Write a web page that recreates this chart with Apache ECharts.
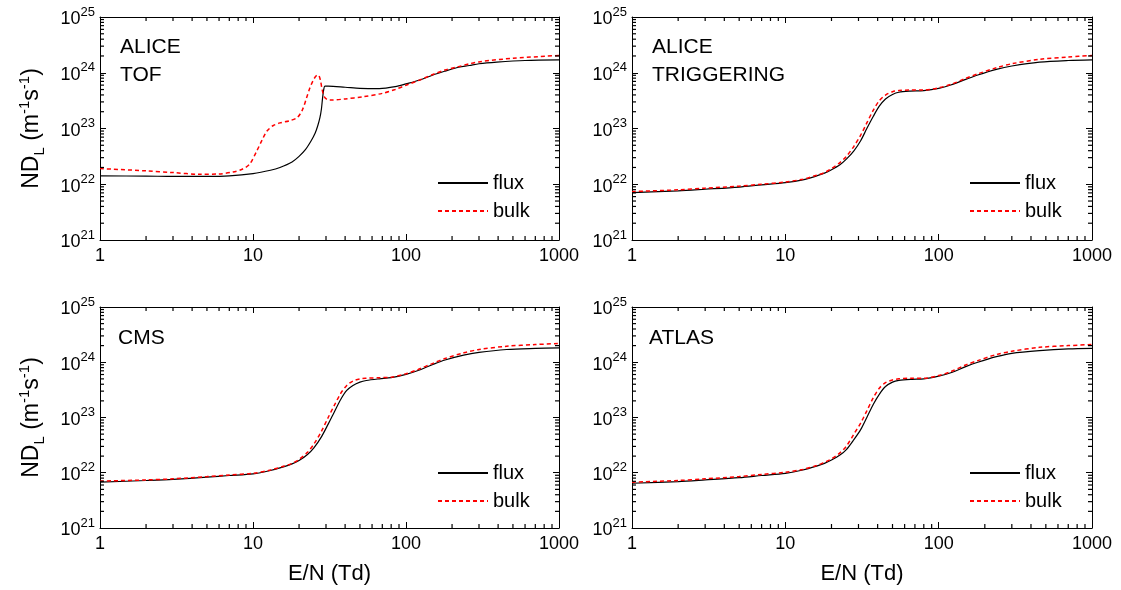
<!DOCTYPE html>
<html>
<head>
<meta charset="utf-8">
<script src="https://cdn.jsdelivr.net/npm/echarts@6/dist/echarts.min.js"></script>
<style>
html,body{margin:0;padding:0;background:#fff;}
#chart{width:1121px;height:590px;}
</style>
</head>
<body>
<div id="chart"></div>
<script>
// ---------- data (E/N in Td, ND_L in m^-1 s^-1) ----------
const panelLabels = ['ALICE\nTOF', 'ALICE\nTRIGGERING', 'CMS', 'ATLAS'];
const seriesNames = ['flux', 'bulk'];
const xTickLabels = ['1', '10', '100', '1000'];

const tofFluxE = [1, 2, 3, 5, 7, 10, 13, 15, 18, 20, 22, 24, 25.5, 26.5, 27.4, 28, 28.5, 29, 29.5, 31, 40, 50, 67, 85, 100, 123, 150, 180, 214, 260, 300, 392, 600, 1000];
const tofFlux  = [1.41e22, 1.40e22, 1.38e22, 1.38e22, 1.41e22, 1.55e22, 1.78e22, 2.0e22, 2.51e22, 3.16e22, 4.17e22, 6.03e22, 8.32e22, 1.12e23, 1.58e23, 2.24e23, 3.55e23, 5.01e23, 5.75e23, 5.75e23, 5.50e23, 5.25e23, 5.19e23, 5.62e23, 6.31e23, 7.41e23, 9.12e23, 1.07e24, 1.23e24, 1.35e24, 1.45e24, 1.55e24, 1.66e24, 1.70e24];
const tofBulkE = [1, 2, 3, 4.5, 6, 7.4, 8.5, 9.5, 10.6, 11.5, 12.3, 13.5, 15, 17.4, 19.5, 21, 22.4, 23.5, 24.8, 26, 26.7, 27.5, 28.3, 29.2, 30.5, 32, 40, 52.4, 70, 85, 101, 123, 150, 180, 214, 260, 305, 500, 1000];
const tofBulk  = [1.91e22, 1.74e22, 1.62e22, 1.51e22, 1.53e22, 1.66e22, 1.86e22, 2.29e22, 3.98e22, 6.31e22, 8.91e22, 1.12e23, 1.26e23, 1.38e23, 1.58e23, 2.14e23, 3.55e23, 5.25e23, 7.41e23, 8.91e23, 9.12e23, 7.59e23, 5.01e23, 3.72e23, 3.31e23, 3.24e23, 3.39e23, 3.72e23, 4.27e23, 5.01e23, 6.03e23, 7.41e23, 9.33e23, 1.12e24, 1.26e24, 1.45e24, 1.58e24, 1.82e24, 2.04e24];

const trigE    = [1, 2, 3, 5, 7, 10, 13, 16, 18, 20, 22.7, 25, 28, 31, 34, 37.5, 41, 45, 50, 55, 65, 80, 100, 120, 150, 180, 238, 300, 455, 700, 1000];
const trigFlux = [7.08e21, 7.59e21, 8.13e21, 8.91e21, 9.77e21, 1.07e22, 1.20e22, 1.41e22, 1.58e22, 1.82e22, 2.24e22, 2.82e22, 3.98e22, 6.03e22, 1.0e23, 1.66e23, 2.51e23, 3.39e23, 4.07e23, 4.47e23, 4.68e23, 4.79e23, 5.25e23, 6.03e23, 7.59e23, 9.12e23, 1.15e24, 1.32e24, 1.55e24, 1.66e24, 1.70e24];
const trigBulk = [7.41e21, 7.94e21, 8.51e21, 9.23e21, 1.0e22, 1.10e22, 1.23e22, 1.45e22, 1.62e22, 1.91e22, 2.45e22, 3.16e22, 4.79e22, 7.59e22, 1.26e23, 2.14e23, 3.16e23, 3.98e23, 4.57e23, 4.79e23, 4.90e23, 4.90e23, 5.37e23, 6.17e23, 7.94e23, 9.55e23, 1.23e24, 1.45e24, 1.74e24, 1.91e24, 2.04e24];

const cmsE     = [1, 2, 3, 5, 7, 10, 13, 16, 18, 20, 22.7, 25, 28, 31, 34, 37.5, 41, 45, 50, 55, 67, 80, 100, 120, 150, 180, 238, 300, 455, 700, 1000];
const cmsFlux  = [6.76e21, 7.24e21, 7.59e21, 8.32e21, 8.91e21, 9.55e21, 1.10e22, 1.29e22, 1.45e22, 1.66e22, 2.14e22, 2.82e22, 4.47e22, 7.59e22, 1.26e23, 2.14e23, 3.09e23, 3.80e23, 4.37e23, 4.68e23, 5.01e23, 5.25e23, 6.03e23, 7.08e23, 9.12e23, 1.10e24, 1.35e24, 1.51e24, 1.70e24, 1.78e24, 1.82e24];
const cmsBulk  = [7.08e21, 7.41e21, 7.76e21, 8.51e21, 9.12e21, 9.77e21, 1.12e22, 1.32e22, 1.48e22, 1.74e22, 2.34e22, 3.31e22, 5.62e22, 1.0e23, 1.66e23, 2.75e23, 3.80e23, 4.57e23, 5.01e23, 5.13e23, 5.25e23, 5.37e23, 6.17e23, 7.41e23, 9.55e23, 1.17e24, 1.48e24, 1.70e24, 1.95e24, 2.09e24, 2.19e24];

const atlasE    = [1, 2, 3, 5, 7, 10, 13, 16, 18, 20, 22.7, 25, 28, 31, 34, 37.5, 41, 45, 50, 55, 67, 80, 100, 120, 150, 180, 238, 300, 455, 700, 1000];
const atlasFlux = [6.46e21, 6.92e21, 7.41e21, 8.13e21, 8.91e21, 9.77e21, 1.12e22, 1.32e22, 1.48e22, 1.70e22, 2.09e22, 2.63e22, 3.98e22, 6.03e22, 1.0e23, 1.74e23, 2.63e23, 3.63e23, 4.37e23, 4.68e23, 4.90e23, 5.01e23, 5.62e23, 6.46e23, 8.32e23, 1.0e24, 1.26e24, 1.45e24, 1.62e24, 1.74e24, 1.78e24];
const atlasBulk = [6.76e21, 7.24e21, 7.76e21, 8.51e21, 9.33e21, 1.02e22, 1.15e22, 1.35e22, 1.55e22, 1.78e22, 2.29e22, 3.02e22, 5.01e22, 7.94e22, 1.32e23, 2.29e23, 3.39e23, 4.27e23, 4.79e23, 5.01e23, 5.13e23, 5.13e23, 5.75e23, 6.76e23, 8.91e23, 1.07e24, 1.38e24, 1.58e24, 1.86e24, 2.0e24, 2.09e24];

const X_MIN = 1, X_MAX = 1000, Y_MIN = 1e21, Y_MAX = 1e25;
// minor tick values (2..9 per decade)
const xMinorTicks = [];
for (let d = 1; d < X_MAX; d *= 10) for (let k = 2; k <= 9; k++) xMinorTicks.push(k * d);
const yMinorTicks = [];
for (let e = 21; e < 25; e++) for (let k = 2; k <= 9; k++) yMinorTicks.push(k * Math.pow(10, e));

// ---------- layout ----------
const FONT = 'Liberation Sans, Arial, Helvetica, sans-serif';
const grids = [
  {left: 100, top: 17, width: 459, height: 223},
  {left: 632, top: 17, width: 460, height: 223},
  {left: 100, top: 307, width: 459, height: 221},
  {left: 632, top: 307, width: 460, height: 221}
];
const panels = [
  {fluxE: tofFluxE, flux: tofFlux, bulkE: tofBulkE, bulk: tofBulk},
  {fluxE: trigE, flux: trigFlux, bulkE: trigE, bulk: trigBulk},
  {fluxE: cmsE, flux: cmsFlux, bulkE: cmsE, bulk: cmsBulk},
  {fluxE: atlasE, flux: atlasFlux, bulkE: atlasE, bulk: atlasBulk}
];
const labelPos = [[120, 33], [652, 33], [118, 324], [649, 324]];
const legendPos = [[437, 173], [969, 173], [437, 463], [969, 463]];

const zip = (a, b) => a.map((v, i) => [v, b[i]]);
const expOf = v => Math.round(Math.log(v) / Math.LN10);

function tickSeries(i, data, size, offset) {
  return {
    type: 'scatter', xAxisIndex: 2 * i, yAxisIndex: 2 * i, silent: true, clip: false,
    data: data, symbol: 'rect', symbolSize: size, symbolOffset: offset,
    itemStyle: {color: '#000', opacity: 1}, z: 5, animation: false
  };
}

const xAxis = [], yAxis = [], series = [], title = [], legend = [];
grids.forEach((g, i) => {
  const isBottom = i >= 2, isLeft = i % 2 === 0;
  xAxis.push({
    type: 'log', logBase: 10, gridIndex: i, min: X_MIN, max: X_MAX, position: 'bottom',
    axisLine: {show: true, lineStyle: {color: '#000', width: 1}},
    axisTick: {show: true, inside: true, length: 6, lineStyle: {color: '#000', width: 1}},
    axisLabel: {show: true, margin: 7, color: '#000', fontSize: 18, fontFamily: FONT,
      formatter: v => xTickLabels[expOf(v)]},
    splitLine: {show: false},
    name: isBottom ? 'E/N (Td)' : '', nameLocation: 'middle', nameGap: 35,
    nameTextStyle: {color: '#000', fontSize: 22, fontFamily: FONT}
  });
  xAxis.push({
    type: 'log', logBase: 10, gridIndex: i, min: X_MIN, max: X_MAX, position: 'top',
    axisLine: {show: true, lineStyle: {color: '#000', width: 1}},
    axisTick: {show: true, inside: true, length: 6, lineStyle: {color: '#000', width: 1}},
    axisLabel: {show: false}, splitLine: {show: false}
  });
  yAxis.push({
    type: 'log', logBase: 10, gridIndex: i, min: Y_MIN, max: Y_MAX, position: 'left',
    axisLine: {show: true, lineStyle: {color: '#000', width: 1}},
    axisTick: {show: true, inside: true, length: 6, lineStyle: {color: '#000', width: 1}},
    axisLabel: {show: true, margin: 5, color: '#000', fontFamily: FONT,
      formatter: v => '{b|10}{s|' + expOf(v) + '}',
      rich: {
        b: {fontSize: 18, lineHeight: 23, verticalAlign: 'bottom', fontFamily: FONT, color: '#000'},
        s: {fontSize: 13, verticalAlign: 'top', fontFamily: FONT, color: '#000'}
      }},
    splitLine: {show: false},
    name: isLeft ? '{n|ND}{sub|L}{n| (m}{sup|-1}{n|s}{sup|-1}{n|)}' : '',
    nameLocation: 'middle', nameRotate: 90, nameGap: 53,
    nameTextStyle: {
      color: '#000', fontFamily: FONT,
      rich: {
        n: {fontSize: 23, lineHeight: 30, verticalAlign: 'middle', fontFamily: FONT, color: '#000'},
        sub: {fontSize: 15, verticalAlign: 'bottom', fontFamily: FONT, color: '#000'},
        sup: {fontSize: 15, verticalAlign: 'top', fontFamily: FONT, color: '#000'}
      }
    }
  });
  yAxis.push({
    type: 'log', logBase: 10, gridIndex: i, min: Y_MIN, max: Y_MAX, position: 'right',
    axisLine: {show: true, lineStyle: {color: '#000', width: 1}},
    axisTick: {show: true, inside: true, length: 6, lineStyle: {color: '#000', width: 1}},
    axisLabel: {show: false}, splitLine: {show: false}
  });

  const p = panels[i];
  series.push({
    name: seriesNames[0], type: 'line', xAxisIndex: 2 * i, yAxisIndex: 2 * i,
    data: zip(p.fluxE, p.flux), showSymbol: false, symbol: 'none', smooth: 0.3,
    lineStyle: {color: '#000', width: 1.2, type: 'solid'}, itemStyle: {color: '#000'},
    z: 3
  });
  series.push({
    name: seriesNames[1], type: 'line', xAxisIndex: 2 * i, yAxisIndex: 2 * i,
    data: zip(p.bulkE, p.bulk), showSymbol: false, symbol: 'none', smooth: 0.3,
    lineStyle: {color: '#ff0000', width: 1.5, type: [4, 3]}, itemStyle: {color: '#ff0000'},
    z: 4
  });
  // minor ticks (inward) on all four sides
  series.push(tickSeries(i, xMinorTicks.map(v => [v, Y_MIN]), [1.2, 4], [0, -2]));
  series.push(tickSeries(i, xMinorTicks.map(v => [v, Y_MAX]), [1.2, 4], [0, 2]));
  series.push(tickSeries(i, yMinorTicks.map(v => [X_MIN, v]), [4, 1.2], [2, 0]));
  series.push(tickSeries(i, yMinorTicks.map(v => [X_MAX, v]), [4, 1.2], [-2, 0]));

  title.push({
    text: panelLabels[i], left: labelPos[i][0], top: labelPos[i][1], padding: 0,
    textStyle: {color: '#000', fontSize: 21, fontWeight: 'normal', fontFamily: FONT, lineHeight: 28}
  });
  legend.push({
    data: seriesNames, orient: 'vertical', left: legendPos[i][0], top: legendPos[i][1],
    itemWidth: 50, itemHeight: 14, itemGap: 8, padding: 0, selectedMode: false,
    itemStyle: {opacity: 0, borderWidth: 0},
    textStyle: {color: '#000', fontSize: 20, fontFamily: FONT, lineHeight: 20}
  });
});

const chart = echarts.init(document.getElementById('chart'), null, {renderer: 'canvas'});
chart.setOption({
  animation: false,
  backgroundColor: '#fff',
  grid: grids,
  xAxis, yAxis, series, title, legend
});
</script>
</body>
</html>
